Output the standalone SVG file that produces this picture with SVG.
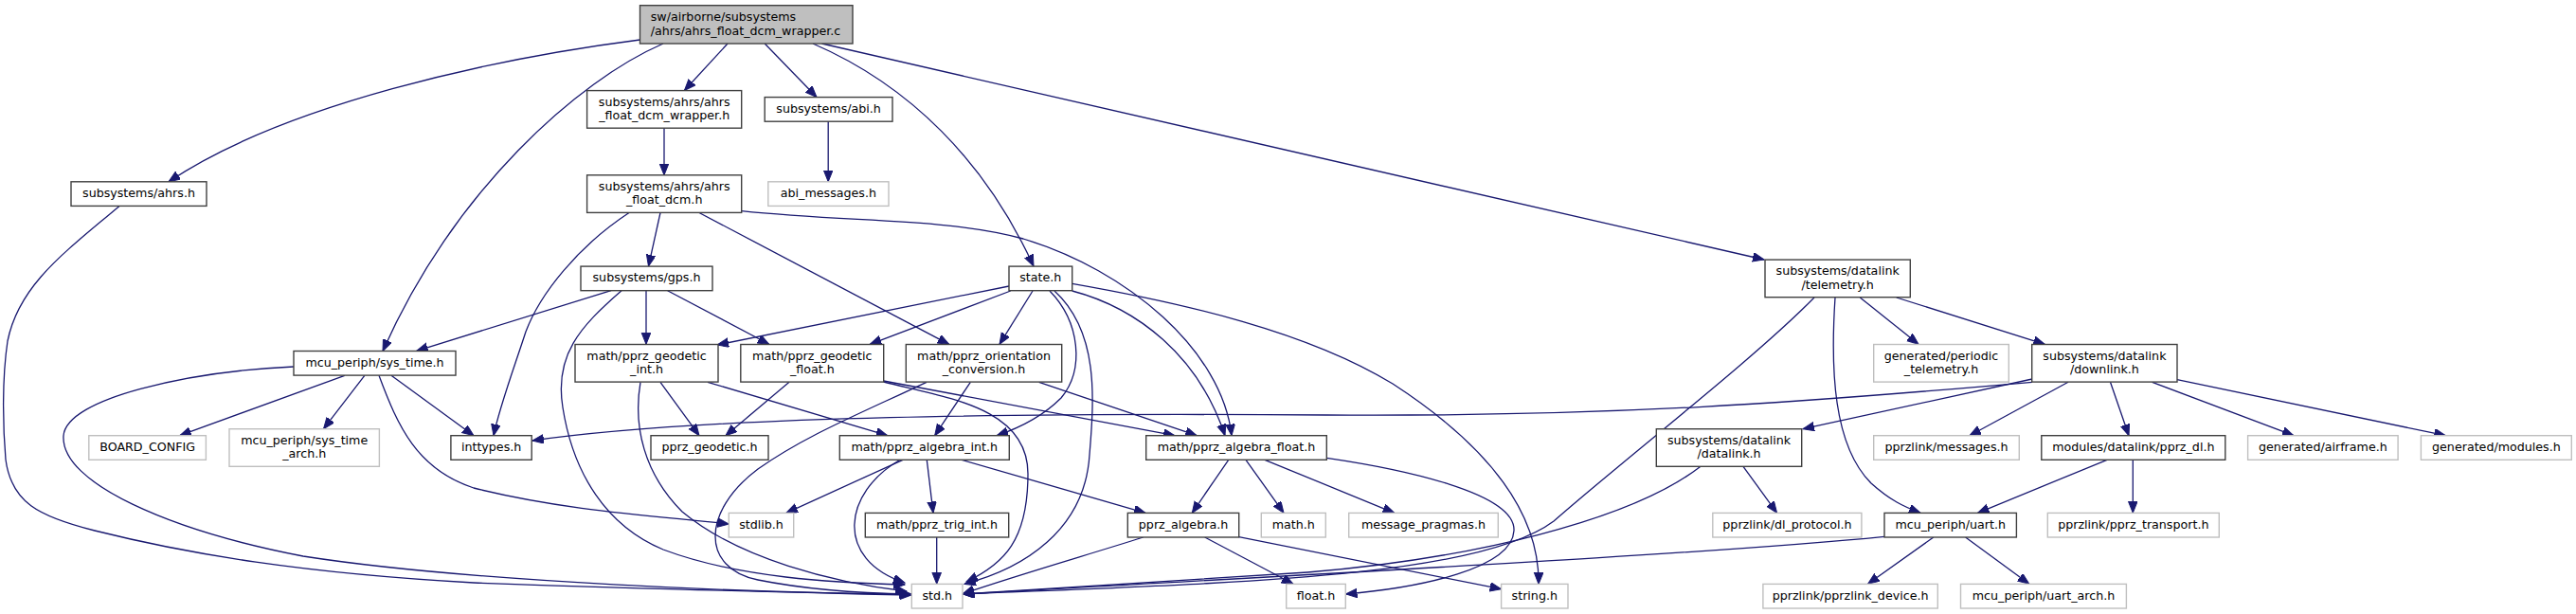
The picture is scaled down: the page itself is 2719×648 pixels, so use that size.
<svg xmlns="http://www.w3.org/2000/svg" width="2719" height="648" viewBox="0 0 2719 648">
<defs>
<style>
rect{fill:#fff;stroke:#404040;stroke-width:1.4}
.g rect{stroke:#bfbfbf}
.m rect{fill:#bfbfbf;stroke:#404040}
text{font-family:"DejaVu Sans","Liberation Sans",sans-serif;font-size:12.67px;fill:#000;text-anchor:middle}
.m text{text-anchor:start}
#edges path{fill:none;stroke:#191970;stroke-width:1.3;marker-end:url(#a)}
</style>
<marker id="a" markerUnits="userSpaceOnUse" markerWidth="14" markerHeight="11" refX="12" refY="4.8" orient="auto"><path d="M0,0 L12,4.8 L0,9.6 z" fill="#191970" stroke="#191970" stroke-width="1"/></marker>
</defs>
<rect x="0" y="0" width="2719" height="648" style="fill:#fff;stroke:none"/>
<g id="edges">
<path d="M675.5,42 C520,62 300,110 178,191.8"/>
<path d="M700,46 C610,85 480,200 404,370.5"/>
<path d="M768,46 L722.4,95.5"/>
<path d="M807.2,46 L862,102.5"/>
<path d="M858,46 C960,90 1040,170 1091,281"/>
<path d="M867.5,46 L1862,274"/>
<path d="M126,217.4 C70,265 20,300 8,360 C2,400 3,450 6,485 C12,530 40,545 100,560 C200,585 320,605 500,615 C700,622 850,626 962,627"/>
<path d="M701,135.3 L701,184.8"/>
<path d="M874.2,128 L874.2,191.8"/>
<path d="M697,224.5 L684.5,281"/>
<path d="M664,224.5 C610,260 570,310 555,350 C542,390 527,430 521,459.7"/>
<path d="M738,224.5 L1001.7,363.3"/>
<path d="M782.7,222.7 C900,235 1000,230 1080,252 C1190,285 1290,370 1300,459.7"/>
<path d="M645,306.7 L439.7,370.3"/>
<path d="M682,306.7 L682,363.3"/>
<path d="M704.6,306.7 L811.7,363.3"/>
<path d="M656,306.7 C612,345 585,375 594,430 C605,500 640,555 700,580 C780,610 880,615 955,617"/>
<path d="M1065,302 L757,364"/>
<path d="M1066.7,307 L918.3,363.3"/>
<path d="M1090,307 L1055,363.3"/>
<path d="M1108,307 C1140,340 1145,390 1120,420 C1100,440 1075,452 1052,459.7"/>
<path d="M1113,307 C1160,350 1155,420 1150,480 C1145,560 1080,600 1018,616.3"/>
<path d="M1131.7,307 C1200,325 1265,375 1293,459.7"/>
<path d="M1131.7,299.3 C1250,320 1380,350 1470,405 C1570,470 1625,540 1624,616.3"/>
<path d="M363.8,396.3 L189.7,459.7"/>
<path d="M384.8,396.3 L341.5,452.7"/>
<path d="M413,396.3 L500,459.7"/>
<path d="M400,396.3 C420,450 440,495 500,515 C600,540 700,545 769.3,553"/>
<path d="M310,387 C200,392 70,420 67,460 C64,510 180,560 320,587 C500,615 800,625 962,628"/>
<path d="M697,403.3 L738,459.7"/>
<path d="M747,403.3 L936.7,459.7"/>
<path d="M676,403.3 C668,450 680,500 720,540 C780,590 880,615 957,624"/>
<path d="M833,403.3 L766,459.7"/>
<path d="M932.7,402 L1240,459.7"/>
<path d="M932.7,403 C1000,420 1085,430 1085,500 C1085,570 1060,595 1020,614"/>
<path d="M1024.3,403.3 L986.7,459.7"/>
<path d="M1096.7,403.3 L1263.3,459.7"/>
<path d="M978,403.3 C900,440 850,460 800,495 C740,540 740,600 800,612 C850,622 900,626 961,627"/>
<path d="M953,485.3 L830,541.3"/>
<path d="M950,485.3 C890,520 880,590 955,615"/>
<path d="M978.3,485.3 L985,541.3"/>
<path d="M1015,485.3 L1209,541.3"/>
<path d="M988.7,567 L988.7,616.3"/>
<path d="M1296.7,485.3 L1258.3,541.3"/>
<path d="M1315,485.3 L1355,541.3"/>
<path d="M1335,485.3 L1471.7,541.3"/>
<path d="M1400.3,483.3 C1480,495 1600,520 1598,560 C1596,600 1500,620 1420.5,627"/>
<path d="M1206.7,567 C1150,585 1080,605 1016.5,626.5"/>
<path d="M1271.7,567 L1365,616.3"/>
<path d="M1307.7,566.7 L1584.6,621.7"/>
<path d="M1963.3,314 L2025,363.3"/>
<path d="M2001.7,314 L2158.3,363.3"/>
<path d="M1937,314 C1932,390 1935,470 1975,510 C1995,528 2010,535 2027,541.3"/>
<path d="M1915,314 C1850,380 1720,480 1640,550 C1560,610 1300,615 1016.5,627"/>
<path d="M2145,403.3 C1900,425 1700,440 1400,438 C1100,436 750,438 562,465"/>
<path d="M2145,400 L1903,452.7"/>
<path d="M2183,403.3 L2079,459.7"/>
<path d="M2227.5,403.3 L2247,459.7"/>
<path d="M2271.7,403.3 L2421,459.7"/>
<path d="M2298,400.7 L2581.4,459.7"/>
<path d="M1840,492.3 L1875.6,541.3"/>
<path d="M1795,492.3 C1720,550 1550,590 1380,604 C1200,615 1100,622 1016.5,627"/>
<path d="M1989,566.3 C1800,585 1400,605 1016.5,627"/>
<path d="M2040.8,567 L1971.6,616.3"/>
<path d="M2074.6,567 L2141.8,616.3"/>
<path d="M2224,485.3 L2087.6,541.3"/>
<path d="M2251.3,485.3 L2251.3,541.3"/>
</g>
<g id="n_main" class="m"><rect x="675.5" y="5.7" width="224.5" height="40.3"/><text x="686.7" y="22.3">sw/airborne/subsystems</text><text x="686.7" y="36.5">/ahrs/ahrs_float_dcm_wrapper.c</text></g>
<g id="n_wrapper"><rect x="619.6" y="95.6" width="163.1" height="39.6"/><text x="701.2" y="111.8">subsystems/ahrs/ahrs</text><text x="701.2" y="126">_float_dcm_wrapper.h</text></g>
<g id="n_abi"><rect x="807.2" y="102.6" width="134.8" height="25.6"/><text x="874.6" y="118.8">subsystems/abi.h</text></g>
<g id="n_ahrs"><rect x="75" y="191.8" width="143" height="25.6"/><text x="146.5" y="208">subsystems/ahrs.h</text></g>
<g id="n_dcm"><rect x="619.6" y="184.8" width="163.1" height="39.6"/><text x="701.2" y="201">subsystems/ahrs/ahrs</text><text x="701.2" y="215.2">_float_dcm.h</text></g>
<g id="n_abimsg" class="g"><rect x="810.8" y="191.8" width="127.2" height="25.6"/><text x="874.4" y="208">abi_messages.h</text></g>
<g id="n_gps"><rect x="613" y="281.1" width="139" height="25.6"/><text x="682.5" y="297.3">subsystems/gps.h</text></g>
<g id="n_state"><rect x="1065" y="281.1" width="66.7" height="25.6"/><text x="1098.3" y="297.3">state.h</text></g>
<g id="n_telemetry"><rect x="1863" y="274.1" width="153.3" height="39.6"/><text x="1939.7" y="290.3">subsystems/datalink</text><text x="1939.7" y="304.5">/telemetry.h</text></g>
<g id="n_systime"><rect x="310" y="370.5" width="171" height="25.6"/><text x="395.5" y="386.7">mcu_periph/sys_time.h</text></g>
<g id="n_geoint"><rect x="607" y="363.5" width="151" height="39.6"/><text x="682.5" y="379.7">math/pprz_geodetic</text><text x="682.5" y="393.9">_int.h</text></g>
<g id="n_geofloat"><rect x="781.8" y="363.5" width="150.9" height="39.6"/><text x="857.3" y="379.7">math/pprz_geodetic</text><text x="857.3" y="393.9">_float.h</text></g>
<g id="n_orient"><rect x="956.3" y="363.5" width="164.4" height="39.6"/><text x="1038.5" y="379.7">math/pprz_orientation</text><text x="1038.5" y="393.9">_conversion.h</text></g>
<g id="n_periodic" class="g"><rect x="1977.7" y="363.5" width="142.6" height="39.6"/><text x="2049" y="379.7">generated/periodic</text><text x="2049" y="393.9">_telemetry.h</text></g>
<g id="n_downlink"><rect x="2144.7" y="363.5" width="153.3" height="39.6"/><text x="2221.4" y="379.7">subsystems/datalink</text><text x="2221.4" y="393.9">/downlink.h</text></g>
<g id="n_board" class="g"><rect x="93.8" y="459.7" width="123.6" height="25.6"/><text x="155.6" y="475.9">BOARD_CONFIG</text></g>
<g id="n_starch" class="g"><rect x="242" y="452.7" width="158.4" height="39.6"/><text x="321.2" y="468.9">mcu_periph/sys_time</text><text x="321.2" y="483.1">_arch.h</text></g>
<g id="n_inttypes"><rect x="475.9" y="459.7" width="85.3" height="25.6"/><text x="518.6" y="475.9">inttypes.h</text></g>
<g id="n_pprzgeo"><rect x="687" y="459.7" width="124" height="25.6"/><text x="749" y="475.9">pprz_geodetic.h</text></g>
<g id="n_algint"><rect x="886.3" y="459.7" width="179" height="25.6"/><text x="975.8" y="475.9">math/pprz_algebra_int.h</text></g>
<g id="n_algfloat"><rect x="1209.7" y="459.7" width="190.6" height="25.6"/><text x="1305" y="475.9">math/pprz_algebra_float.h</text></g>
<g id="n_datalink"><rect x="1748.3" y="452.7" width="153.4" height="39.6"/><text x="1825" y="468.9">subsystems/datalink</text><text x="1825" y="483.1">/datalink.h</text></g>
<g id="n_messages" class="g"><rect x="1977.7" y="459.7" width="153.6" height="25.6"/><text x="2054.5" y="475.9">pprzlink/messages.h</text></g>
<g id="n_pprzdl"><rect x="2154.8" y="459.7" width="194" height="25.6"/><text x="2251.8" y="475.9">modules/datalink/pprz_dl.h</text></g>
<g id="n_airframe" class="g"><rect x="2372.6" y="459.7" width="158.5" height="25.6"/><text x="2451.9" y="475.9">generated/airframe.h</text></g>
<g id="n_modules" class="g"><rect x="2555.4" y="459.7" width="158.9" height="25.6"/><text x="2634.9" y="475.9">generated/modules.h</text></g>
<g id="n_stdlib" class="g"><rect x="769.3" y="541.4" width="68.4" height="25.6"/><text x="803.5" y="557.6">stdlib.h</text></g>
<g id="n_trig"><rect x="913.3" y="541.4" width="151.4" height="25.6"/><text x="989" y="557.6">math/pprz_trig_int.h</text></g>
<g id="n_pprzalg"><rect x="1190.3" y="541.4" width="117.4" height="25.6"/><text x="1249" y="557.6">pprz_algebra.h</text></g>
<g id="n_math" class="g"><rect x="1331.3" y="541.4" width="68" height="25.6"/><text x="1365.3" y="557.6">math.h</text></g>
<g id="n_msgpragmas" class="g"><rect x="1423.7" y="541.4" width="157.6" height="25.6"/><text x="1502.5" y="557.6">message_pragmas.h</text></g>
<g id="n_dlprotocol" class="g"><rect x="1807.8" y="541.4" width="157.1" height="25.6"/><text x="1886.4" y="557.6">pprzlink/dl_protocol.h</text></g>
<g id="n_uart"><rect x="1989" y="541.4" width="139.4" height="25.6"/><text x="2058.7" y="557.6">mcu_periph/uart.h</text></g>
<g id="n_transport" class="g"><rect x="2161.3" y="541.4" width="181" height="25.6"/><text x="2251.8" y="557.6">pprzlink/pprz_transport.h</text></g>
<g id="n_std" class="g"><rect x="962.3" y="616.4" width="53.7" height="25.6"/><text x="989.2" y="632.6">std.h</text></g>
<g id="n_float" class="g"><rect x="1357.7" y="616.4" width="62.6" height="25.6"/><text x="1389" y="632.6">float.h</text></g>
<g id="n_string" class="g"><rect x="1584.6" y="616.4" width="70.4" height="25.6"/><text x="1619.8" y="632.6">string.h</text></g>
<g id="n_device" class="g"><rect x="1860.9" y="616.4" width="184.4" height="25.6"/><text x="1953.1" y="632.6">pprzlink/pprzlink_device.h</text></g>
<g id="n_uartarch" class="g"><rect x="2069.5" y="616.4" width="174.9" height="25.6"/><text x="2157" y="632.6">mcu_periph/uart_arch.h</text></g>
</svg>
